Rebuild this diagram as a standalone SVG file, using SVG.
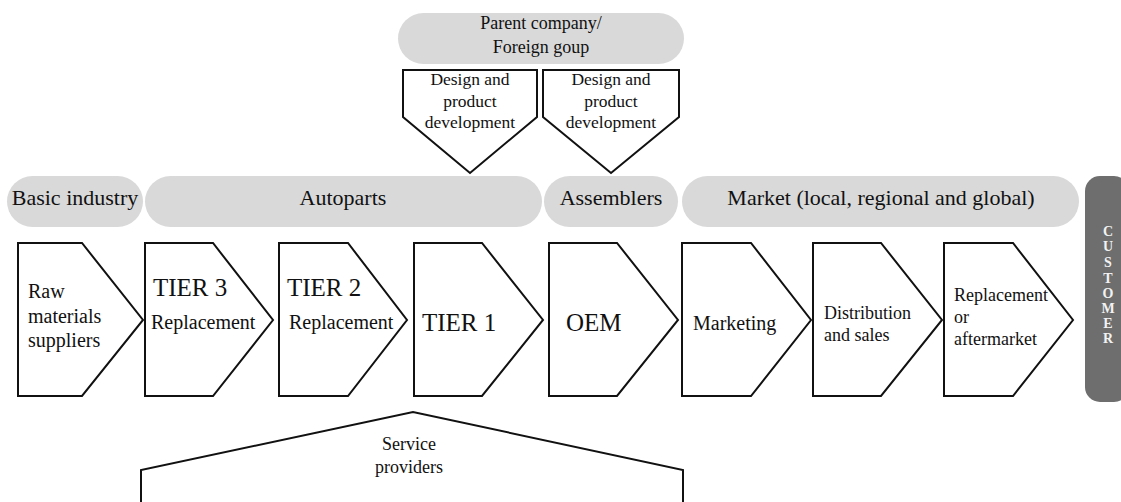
<svg xmlns="http://www.w3.org/2000/svg" width="1121" height="502" viewBox="0 0 1121 502">
<style>
.pill{fill:#d9d9d9;stroke:none}
.box{fill:#fff;stroke:#111;stroke-width:2;stroke-linejoin:miter}
text{font-family:"Liberation Serif","Times New Roman",serif;fill:#111}
.hd{font-size:22px;text-anchor:middle}
.pt{font-size:18px;text-anchor:middle}
.ds{font-size:17.5px;text-anchor:middle}
.big{font-size:25px}
.md{font-size:20px}
.sm{font-size:18px}
.cu{font-size:14px;font-weight:bold;fill:#f2f2f2;text-anchor:middle}
</style>
<rect width="1121" height="502" fill="#fff"/>
<g id="parent">
<rect class="pill" x="398" y="13" width="286" height="51" rx="25.5"/>
<text class="pt" x="541" y="29">Parent company/</text>
<text class="pt" x="541" y="53">Foreign goup</text>
</g>
<g id="design1">
<polygon class="box" points="403,70 537,70 537,117 470,173 403,117"/>
<text class="ds" x="470" y="85">Design and</text>
<text class="ds" x="470" y="107">product</text>
<text class="ds" x="470" y="128">development</text>
</g>
<g id="design2">
<polygon class="box" points="543,70 679,70 679,117 611,173 543,117"/>
<text class="ds" x="611" y="85">Design and</text>
<text class="ds" x="611" y="107">product</text>
<text class="ds" x="611" y="128">development</text>
</g>
<g id="basic-industry">
<rect class="pill" x="7" y="176" width="136" height="51" rx="25.5"/>
<text class="hd" x="75" y="205">Basic industry</text>
</g>
<g id="autoparts">
<rect class="pill" x="145" y="176" width="397" height="51" rx="25.5"/>
<text class="hd" x="343" y="205">Autoparts</text>
</g>
<g id="assemblers">
<rect class="pill" x="544" y="176" width="134" height="51" rx="25.5"/>
<text class="hd" x="611" y="205">Assemblers</text>
</g>
<g id="market">
<rect class="pill" x="682" y="176" width="397" height="51" rx="25.5"/>
<text class="hd" x="881" y="205">Market (local, regional and global)</text>
</g>
<g id="customer">
<rect x="1085" y="176" width="44" height="226" rx="15" fill="#6e6e6e"/>
<text class="cu" x="1108" y="236">C</text>
<text class="cu" x="1108" y="251">U</text>
<text class="cu" x="1108" y="267">S</text>
<text class="cu" x="1108" y="283">T</text>
<text class="cu" x="1108" y="298">O</text>
<text class="cu" x="1108" y="313">M</text>
<text class="cu" x="1108" y="328">E</text>
<text class="cu" x="1108" y="343">R</text>
</g>
<g id="raw">
<polygon class="box" points="18,243 82,243 143,320 82,396 18,396"/>
<text class="md" x="28" y="298">Raw</text>
<text class="md" x="28" y="323">materials</text>
<text class="md" x="28" y="347">suppliers</text>
</g>
<g id="tier3">
<polygon class="box" points="145,243 213,243 273,320 213,396 145,396"/>
<text class="big" x="153" y="296">TIER 3</text>
<text class="md" x="151" y="329">Replacement</text>
</g>
<g id="tier2">
<polygon class="box" points="279,243 348,243 407,320 348,396 279,396"/>
<text class="big" x="287" y="296">TIER 2</text>
<text class="md" x="289" y="329">Replacement</text>
</g>
<g id="tier1">
<polygon class="box" points="414,243 482,243 543,320 482,396 414,396"/>
<text class="big" x="422" y="331">TIER 1</text>
</g>
<g id="oem">
<polygon class="box" points="549,243 617,243 678,320 617,396 549,396"/>
<text class="big" x="566" y="331">OEM</text>
</g>
<g id="marketing">
<polygon class="box" points="682,243 751,243 811,320 751,396 682,396"/>
<text class="md" x="693" y="330">Marketing</text>
</g>
<g id="distribution">
<polygon class="box" points="813,243 881,243 942,320 881,396 813,396"/>
<text class="sm" x="824" y="319">Distribution</text>
<text class="sm" x="824" y="341">and sales</text>
</g>
<g id="replacement">
<polygon class="box" points="944,243 1013,243 1073,320 1013,396 944,396"/>
<text class="sm" x="954" y="301">Replacement</text>
<text class="sm" x="954" y="323">or</text>
<text class="sm" x="954" y="345">aftermarket</text>
</g>
<g id="service-providers">
<path class="box" d="M141,504 L141,470 L413,412 L683,470 L683,504"/>
<text class="pt" x="409" y="450">Service</text>
<text class="pt" x="409" y="473">providers</text>
</g>
<g id="connectors"></g>
</svg>
